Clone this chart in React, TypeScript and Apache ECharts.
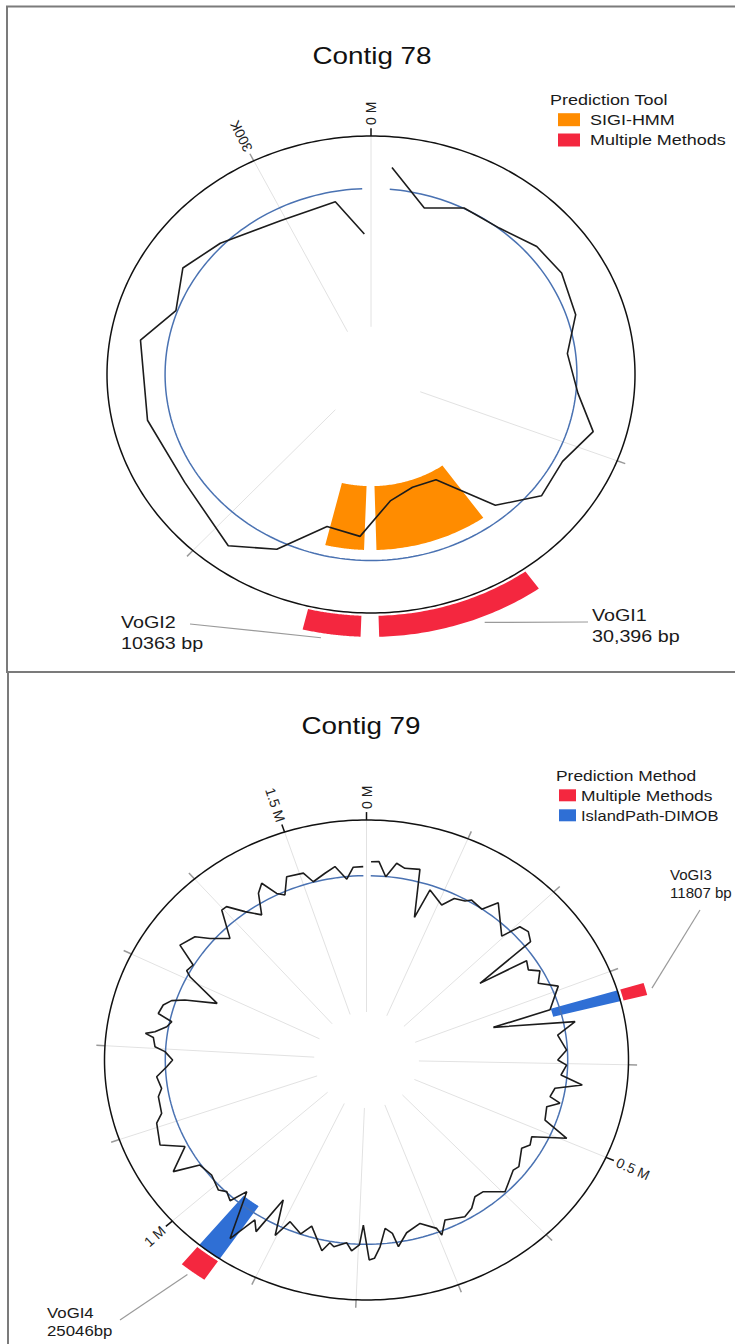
import React, { useEffect, useRef } from "react";
import * as echarts from "echarts";

// ================= DATA =================
// ---- Contig 78 ----
const c78LengthKb = 323.7;
const c78TickKb = [0, 100, 200, 300];
const c78TickLabels = ["0 M", "", "", "300K"];
// sliding-window GC track (position in kb, radial level relative to the axis ring)
const c78GcPosKb = [4.7, 14.5, 24.1, 34.5, 44.5, 53.5, 64.8, 74.9, 86.1, 95.2, 104.9, 115.3, 125.3, 135.6, 145.3, 154.8, 165.0, 175.0, 185.2, 195.1, 213.4, 231.3, 251.2, 260.7, 271.6, 282.3, 298.7, 314.2, 321.5];
const c78GcLevel = [0.872, 0.727, 0.782, 0.783, 0.826, 0.838, 0.815, 0.749, 0.788, 0.875, 0.812, 0.822, 0.723, 0.505, 0.498, 0.535, 0.68, 0.659, 0.815, 0.899, 0.838, 0.868, 0.885, 0.786, 0.841, 0.793, 0.73, 0.737, 0.59];
const c78GcMean = 0.78;
const c78IslandNames = ["VoGI1", "VoGI2"];
const c78IslandSizes = ["30,396 bp", "10363 bp"];
const c78IslandStartKb = [130.1, 163.7];
const c78IslandEndKb = [160.4, 174.1];
const c78Methods = ["SIGI-HMM", "Multiple Methods"];

// ---- Contig 79 ----
const c79LengthKb = 1580;
const c79TickKb = [0, 100, 200, 300, 400, 500, 600, 700, 800, 900, 1000, 1100, 1200, 1300, 1400, 1500];
const c79TickLabels = ["0 M", "", "", "", "", "0.5 M", "", "", "", "", "1 M", "", "", "", "", "1.5 M"];
const c79GcPosKb = [
  5.3, 14.5, 24.1, 35.1, 45.6, 63.2, 75.1, 82.9, 105.1, 116.1,
  129.9, 136.3, 153.6, 164.6, 197.5, 204.1, 215.5, 227.3, 235.2, 245.3,
  257.6, 266.4, 280.9, 294.9, 322.1, 326.1, 345.2, 359.4, 381.4, 395.0,
  402.0, 416.1, 426.6, 435.8, 449.0, 455.1, 464.3, 483.7, 496.4, 513.1,
  524.9, 534.6, 559.1, 567.5, 585.9, 597.2, 618.4, 632.0, 645.1, 658.8,
  683.8, 695.6, 698.3, 716.7, 737.3, 750.9, 755.8, 764.6, 773.3, 780.8,
  786.9, 794.4, 798.8, 808.0, 815.0, 829.9, 835.7, 843.1, 863.8, 873.8,
  892.7, 901.9, 915.5, 923.9, 933.1, 943.6, 964.7, 972.6, 984.0, 992.8,
  1013.7, 1033.4, 1043.5, 1064.3, 1078.8, 1105.1, 1115.2, 1137.2, 1147.2, 1163.1,
  1175.8, 1185.0, 1196.4, 1202.1, 1213.9, 1217.9, 1221.4, 1230.2, 1238.1, 1245.1,
  1257.2, 1265.7, 1272.1, 1283.7, 1304.6, 1310.1, 1320.6, 1333.8, 1352.2, 1361.9,
  1379.0, 1397.9, 1404.9, 1418.1, 1433.0, 1445.3, 1454.9, 1464.6, 1473.1, 1484.5,
  1504.5, 1512.9, 1529.5, 1542.7, 1555.0, 1564.2, 1576.1,
];
const c79GcLevel = [
  0.826, 0.828, 0.767, 0.828, 0.812, 0.82, 0.622, 0.749, 0.707, 0.752,
  0.762, 0.778, 0.767, 0.826, 0.73, 0.807, 0.817, 0.797, 0.538, 0.738,
  0.723, 0.759, 0.729, 0.794, 0.731, 0.503, 0.812, 0.737, 0.765, 0.73,
  0.764, 0.745, 0.83, 0.729, 0.717, 0.76, 0.715, 0.726, 0.831, 0.707,
  0.718, 0.697, 0.732, 0.724, 0.746, 0.762, 0.707, 0.704, 0.737, 0.753,
  0.731, 0.784, 0.751, 0.711, 0.736, 0.787, 0.729, 0.705, 0.78, 0.827,
  0.833, 0.688, 0.771, 0.797, 0.765, 0.788, 0.774, 0.813, 0.723, 0.767,
  0.734, 0.81, 0.664, 0.83, 0.791, 0.908, 0.714, 0.784, 0.765, 0.783,
  0.761, 0.772, 0.872, 0.781, 0.864, 0.843, 0.813, 0.809, 0.791, 0.804,
  0.763, 0.74, 0.77, 0.809, 0.819, 0.851, 0.816, 0.775, 0.76, 0.818,
  0.809, 0.784, 0.737, 0.617, 0.758, 0.781, 0.771, 0.858, 0.832, 0.783,
  0.727, 0.834, 0.833, 0.773, 0.725, 0.808, 0.838, 0.774, 0.755, 0.822,
  0.815, 0.77, 0.794, 0.815, 0.757, 0.805, 0.806,
];
const c79GcMean = 0.768;
const c79IslandNames = ["VoGI3", "VoGI4"];
const c79IslandSizes = ["11807 bp", "25046bp"];
const c79IslandStartKb = [321.0, 939.5];
const c79IslandEndKb = [332.8, 964.0];
const c79Methods = ["Multiple Methods", "IslandPath-DIMOB"];

// ================= STYLE / LAYOUT =================
const FONT = "'Liberation Sans', Arial, Helvetica, sans-serif";
const TXT = "#1a1a1a";
const SX = 1.16; // horizontal stretch of the original figure's lettering
const methodColor: Record<string, string> = {
  "SIGI-HMM": "#FF8C00",
  "Multiple Methods": "#F4273F",
  "IslandPath-DIMOB": "#2F6FD5",
};

const panels = [
  {
    length: c78LengthKb,
    ticks: c78TickKb,
    tickLabels: c78TickLabels,
    strongTick: (kb: number) => kb === 0,
    flipLabels: false,
    gcPos: c78GcPosKb,
    gcLevel: c78GcLevel,
    gcMean: c78GcMean,
    names: c78IslandNames,
    sizes: c78IslandSizes,
    starts: c78IslandStartKb,
    ends: c78IslandEndKb,
    methods: c78Methods,
    rings: { "SIGI-HMM": [0.468, 0.736], "Multiple Methods": [1.012, 1.1] } as Record<string, [number, number]>,
    grid: { left: 107, top: 136, width: 528, height: 477 },
    title: { text: "Contig 78", x: 372, y: 56, size: 24 },
    legend: { title: "Prediction Tool", x: 550, y: 100, size: 15.5, swX: 558, swW: 22, swH: 13, textX: 590, rowY: [119.7, 140], order: ["SIGI-HMM", "Multiple Methods"] },
    labelFont: 17,
    labels: [
      { frac: 0.38, r: 1.125, end: [588, 622], tx: 592, ty: [614.5, 635.5], sx: SX },
      { frac: 0.665, r: 1.12, end: [190, 624], tx: 121, ty: [621.5, 642.5], sx: SX },
    ],
  },
  {
    length: c79LengthKb,
    ticks: c79TickKb,
    tickLabels: c79TickLabels,
    strongTick: (kb: number) => kb % 500 === 0,
    flipLabels: true,
    gcPos: c79GcPosKb,
    gcLevel: c79GcLevel,
    gcMean: c79GcMean,
    names: c79IslandNames,
    sizes: c79IslandSizes,
    starts: c79IslandStartKb,
    ends: c79IslandEndKb,
    methods: c79Methods,
    rings: { "IslandPath-DIMOB": [0.735, 1.002], "Multiple Methods": [1.012, 1.105] } as Record<string, [number, number]>,
    grid: { left: 104.5, top: 820, width: 524, height: 480 },
    title: { text: "Contig 79", x: 361, y: 726, size: 24 },
    legend: { title: "Prediction Method", x: 556, y: 775, size: 15, swX: 559, swW: 17, swH: 12, textX: 581, rowY: [795.3, 815.3], order: ["Multiple Methods", "IslandPath-DIMOB"] },
    labelFont: 14.5,
    labels: [
      { frac: 0.55, r: 1.13, end: [700, 910], tx: 670, ty: [875.5, 893], sx: 1.04 },
      { frac: 0.6, r: 1.125, end: [120, 1320], tx: 47, ty: [1312.5, 1331], sx: SX },
    ],
  },
];

function buildOption() {
  const series: any[] = [];
  const graphic: any[] = [];

  panels.forEach((p, gi) => {
    const ang = (kb: number) => (kb / p.length) * Math.PI * 2;
    const toXY = (kb: number, r: number) => [r * Math.sin(ang(kb)), r * Math.cos(ang(kb))];
    const base = { xAxisIndex: gi, yAxisIndex: gi, clip: false, silent: true, animation: false };

    // spokes, ticks and tick labels
    series.push({
      ...base,
      type: "custom",
      name: `ticks-${gi}`,
      z: 1,
      data: p.ticks.map((t, i) => [t, i]),
      renderItem: (_params: any, api: any) => {
        const kb = api.value(0);
        const i = api.value(1);
        const label = p.tickLabels[i];
        const a0 = api.coord(toXY(kb, 0.2));
        const a1 = api.coord(toXY(kb, 1.0));
        const a2 = api.coord(toXY(kb, 1.033));
        const lp = api.coord(toXY(kb, 1.046));
        const deg = (kb / p.length) * 360;
        const flip = p.flipLabels && deg > 180;
        const rot = (((flip ? 270 : 90) - deg) * Math.PI) / 180;
        const strong = p.strongTick(kb);
        const children: any[] = [
          { type: "line", shape: { x1: a0[0], y1: a0[1], x2: a1[0], y2: a1[1] }, style: { stroke: "#e2e2e2", lineWidth: 1 } },
          { type: "line", shape: { x1: a1[0], y1: a1[1], x2: a2[0], y2: a2[1] }, style: { stroke: strong ? "#111" : "#9a9a9a", lineWidth: 1.5 } },
        ];
        if (label) {
          children.push({
            type: "text",
            x: lp[0],
            y: lp[1],
            rotation: rot,
            style: { text: label, fontSize: 14, fontFamily: FONT, fill: "#222", align: flip ? "right" : "left", verticalAlign: "middle" },
          });
        }
        return { type: "group", children };
      },
    });

    // island tracks
    p.methods.forEach((m) => {
      const [r0, r1] = p.rings[m];
      series.push({
        ...base,
        type: "custom",
        name: m,
        z: 2,
        itemStyle: { color: methodColor[m] },
        data: p.starts.map((s, i) => [s, p.ends[i]]),
        renderItem: (_params: any, api: any) => {
          const s = api.value(0);
          const e = api.value(1);
          const n = 48;
          const pts: number[][] = [];
          for (let k = 0; k <= n; k++) pts.push(api.coord(toXY(s + ((e - s) * k) / n, r1)));
          for (let k = n; k >= 0; k--) pts.push(api.coord(toXY(s + ((e - s) * k) / n, r0)));
          return { type: "polygon", shape: { points: pts }, style: { fill: methodColor[m] } };
        },
      });
    });

    // axis ring
    series.push({
      ...base,
      type: "custom",
      name: `ring-${gi}`,
      z: 3,
      data: [[1]],
      renderItem: (_params: any, api: any) => {
        const r = api.value(0);
        const pts: number[][] = [];
        for (let k = 0; k <= 360; k++) pts.push(api.coord(toXY((p.length * k) / 360, r)));
        return { type: "polyline", shape: { points: pts }, style: { stroke: "#111", lineWidth: 1.5, fill: null } };
      },
    });

    // mean GC reference arc
    const first = p.gcPos[0];
    const last = p.gcPos[p.gcPos.length - 1];
    series.push({
      ...base,
      type: "custom",
      name: `mean-${gi}`,
      z: 4,
      data: [[p.gcMean, first, last]],
      renderItem: (_params: any, api: any) => {
        const r = api.value(0);
        const s = api.value(1);
        const e = api.value(2);
        const n = 240;
        const pts: number[][] = [];
        for (let k = 0; k <= n; k++) pts.push(api.coord(toXY(s + ((e - s) * k) / n, r)));
        return { type: "polyline", shape: { points: pts }, style: { stroke: "#4A72B2", lineWidth: 1.5, fill: null } };
      },
    });

    // GC window line
    const nPts = Math.min(p.gcPos.length, p.gcLevel.length);
    series.push({
      ...base,
      type: "line",
      name: `gc-${gi}`,
      z: 5,
      symbol: "none",
      showSymbol: false,
      lineStyle: { color: "#1c1c1c", width: 1.6 },
      data: p.gcPos.slice(0, nPts).map((kb, i) => toXY(kb, p.gcLevel[i])),
    });

    // island labels with leader lines
    series.push({
      ...base,
      type: "custom",
      name: `labels-${gi}`,
      z: 6,
      data: p.starts.map((s, i) => [s, p.ends[i], i]),
      renderItem: (_params: any, api: any) => {
        const s = api.value(0);
        const e = api.value(1);
        const i = api.value(2);
        const L = p.labels[i];
        const inner = api.coord(toXY(s + (e - s) * L.frac, L.r));
        return {
          type: "group",
          children: [
            { type: "line", shape: { x1: inner[0], y1: inner[1], x2: L.end[0], y2: L.end[1] }, style: { stroke: "#9a9a9a", lineWidth: 1.2 } },
            { type: "text", x: L.tx, y: L.ty[0], scaleX: L.sx, style: { text: p.names[i], fontSize: p.labelFont, fontFamily: FONT, fill: TXT, align: "left", verticalAlign: "middle" } },
            { type: "text", x: L.tx, y: L.ty[1], scaleX: L.sx, style: { text: p.sizes[i], fontSize: p.labelFont, fontFamily: FONT, fill: TXT, align: "left", verticalAlign: "middle" } },
          ],
        };
      },
    });

    // title and legend
    graphic.push({
      type: "text",
      x: p.title.x,
      y: p.title.y,
      scaleX: SX,
      style: { text: p.title.text, fontSize: p.title.size, fontFamily: FONT, fill: "#111", align: "center", verticalAlign: "middle" },
    });
    const lg = p.legend;
    graphic.push({
      type: "text",
      x: lg.x,
      y: lg.y,
      scaleX: SX,
      style: { text: lg.title, fontSize: lg.size, fontFamily: FONT, fill: TXT, align: "left", verticalAlign: "middle" },
    });
    lg.order.forEach((m, k) => {
      graphic.push({
        type: "rect",
        shape: { x: lg.swX, y: lg.rowY[k] - lg.swH / 2, width: lg.swW, height: lg.swH },
        style: { fill: methodColor[m] },
      });
      graphic.push({
        type: "text",
        x: lg.textX,
        y: lg.rowY[k],
        scaleX: m === "IslandPath-DIMOB" ? 1.1 : SX,
        style: { text: m, fontSize: lg.size, fontFamily: FONT, fill: TXT, align: "left", verticalAlign: "middle" },
      });
    });
  });

  // panel frames
  graphic.unshift(
    { type: "rect", shape: { x: 7, y: 6.5, width: 740, height: 665.5 }, style: { fill: "none", stroke: "#7b7b7b", lineWidth: 2 } },
    { type: "rect", shape: { x: 8, y: 672, width: 740, height: 700 }, style: { fill: "none", stroke: "#7b7b7b", lineWidth: 2 } }
  );

  return {
    animation: false,
    backgroundColor: "#ffffff",
    grid: panels.map((p) => ({ ...p.grid, containLabel: false })),
    xAxis: panels.map((_, gi) => ({ type: "value", gridIndex: gi, min: -1, max: 1, show: false })),
    yAxis: panels.map((_, gi) => ({ type: "value", gridIndex: gi, min: -1, max: 1, show: false })),
    series,
    graphic,
  };
}

export default function App() {
  const ref = useRef<HTMLDivElement>(null);
  useEffect(() => {
    if (!ref.current) return;
    const chart = echarts.init(ref.current, null, { renderer: "svg" });
    chart.setOption(buildOption());
    return () => chart.dispose();
  }, []);
  return (
    <div
      ref={ref}
      style={{ position: "absolute", left: 0, top: 0, width: 735, height: 1344, background: "#fff" }}
    />
  );
}
